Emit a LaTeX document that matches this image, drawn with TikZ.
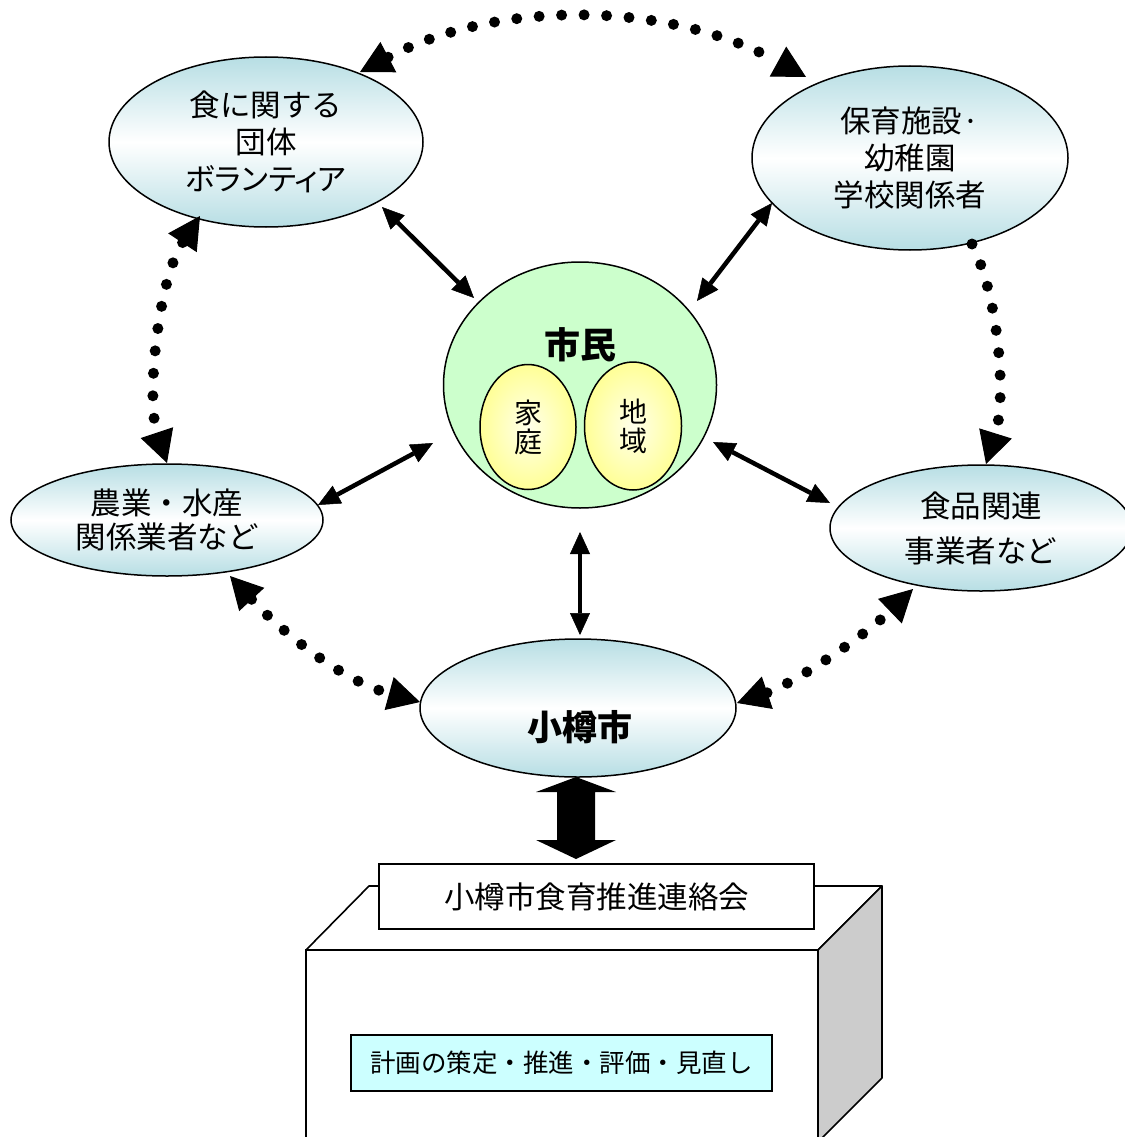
\documentclass[tikz,border=0pt]{standalone}
\usepackage{fontspec}
\newfontfamily\jp{Noto Sans CJK JP}
\newfontfamily\jpp[RawFeature=+palt]{Noto Sans CJK JP}
\usetikzlibrary{shapes.geometric,arrows.meta}
\definecolor{tealc}{RGB}{183,222,228}
\definecolor{greenc}{RGB}{204,255,204}
\definecolor{yelc}{RGB}{255,255,150}
\definecolor{yelin}{RGB}{255,255,235}
\definecolor{cyanc}{RGB}{204,255,255}
\definecolor{grayc}{RGB}{204,204,204}
\begin{document}
\begin{tikzpicture}[x=1pt,y=-1pt,
  oval/.style={ellipse, draw, line width=1.5pt, top color=tealc, bottom color=tealc, middle color=white, inner sep=0pt, align=center, font=\jp\fontsize{30.5}{37}\selectfont},
  inoval/.style={ellipse, draw, line width=1.5pt, inner color=yelin, outer color=yelc, inner sep=0pt, align=center, font=\jp\fontsize{28}{29}\selectfont},
  dots/.style={line width=11pt, line cap=round, dash pattern=on 0pt off 22.5pt},
  dtip/.tip={Triangle[length=32pt,width=34pt,line width=1pt]},
  stip/.tip={Triangle[length=22pt,width=20pt,line width=0.5pt]},
  solidarrow/.style={line width=4.5pt, stip-stip},
  plainbox/.style={draw, line width=1.6pt, inner sep=0pt, font=\jp\fontsize{30.5}{36}\selectfont}
]
\useasboundingbox (0,0) rectangle (1124,1137);

% 3D box
\draw[line width=1.6pt, fill=white] (306,950) rectangle (818,1160);
\draw[line width=1.6pt, fill=white, line join=round] (306,950) -- (369,886) -- (882,886) -- (818,950) -- cycle;
\draw[line width=1.6pt, fill=grayc, line join=round] (818,950) -- (882,886) -- (882,1078) -- (818,1142) -- cycle;
\node[plainbox, fill=white, minimum width=435pt, minimum height=65pt] (L) at (596.5,896.5) {小樽市食育推進連絡会};
\node[plainbox, fill=cyanc, minimum width=421pt, minimum height=56pt, font=\jp\fontsize{25.5}{30}\selectfont] (P) at (561.5,1063) {計画の策定・推進・評価・見直し};

% nodes
\node[oval, minimum width=314pt, minimum height=170pt] (A) at (266,142) {食に関する\\団体\\{\jpp ボランティア}};
\node[oval, minimum width=316pt, minimum height=184pt] (B) at (910,158) {保育施設·\\幼稚園\\学校関係者};
\node[oval, minimum width=312pt, minimum height=112pt, font=\jp\fontsize{30.5}{34.5}\selectfont] (C) at (167,520) {農業・水産\\関係業者など};
\node[oval, minimum width=302pt, minimum height=126pt, font=\jp\fontsize{30.5}{45}\selectfont] (D) at (981,528) {食品関連\\事業者など};
\node[ellipse, draw, line width=1.5pt, fill=greenc, minimum width=273pt, minimum height=246pt] (M) at (580,385) {};
\node[font=\jp\bfseries\fontsize{36}{40}\selectfont, inner sep=0pt] (Mt) at (580,345) {市民};
\node[inoval, minimum width=96pt, minimum height=125pt] (H) at (528,427) {家\\庭};
\node[inoval, minimum width=97pt, minimum height=128pt] (R) at (633,426) {地\\域};
\node[oval, minimum width=316pt, minimum height=138pt] (O) at (578,708) {};
\node[font=\jp\bfseries\fontsize{35}{40}\selectfont, inner sep=0pt] (Ot) at (580,727) {小樽市};

% endpoints
\coordinate (a1) at (360,72);  \coordinate (b1) at (806,77);
\coordinate (a2) at (200,216); \coordinate (c1) at (167,463);
\coordinate (b2) at (972,244); \coordinate (d1) at (986,464);
\coordinate (c2) at (230,576); \coordinate (o1) at (420,702);
\coordinate (o2) at (737,703); \coordinate (d2) at (913,589);
\coordinate (a3) at (382,207); \coordinate (m1) at (474,298);
\coordinate (b3) at (772,203); \coordinate (m2) at (697,301);
\coordinate (c3) at (318,505); \coordinate (m3) at (433,443);
\coordinate (d3) at (830,503); \coordinate (m4) at (713,442);
\coordinate (m5) at (580,532); \coordinate (o3) at (580,635);

% dotted connectors
\draw[dots, dtip-dtip] (a1) .. controls (499,-1) and (668,1) .. (b1);
\draw[dots, dtip-dtip] (a2) .. controls (158,280) and (146,400) .. (c1);
\draw[dots, -dtip] (b2) .. controls (1000,300) and (1006,400) .. (d1);
\draw[dots, dtip-dtip] (c2) .. controls (280,630) and (340,680) .. (o1);
\draw[dots, dtip-dtip] (o2) .. controls (790,685) and (860,640) .. (d2);

% solid connectors
\draw[solidarrow] (a3) -- (m1);
\draw[solidarrow] (b3) -- (m2);
\draw[solidarrow] (c3) -- (m3);
\draw[solidarrow] (d3) -- (m4);
\draw[solidarrow] (m5) -- (o3);

% block arrow
\fill (576,777) -- (616,792) -- (595,792) -- (595,840) -- (616,840) -- (576,859) -- (536,840) -- (557,840) -- (557,792) -- (536,792) -- cycle;
\end{tikzpicture}
\end{document}
